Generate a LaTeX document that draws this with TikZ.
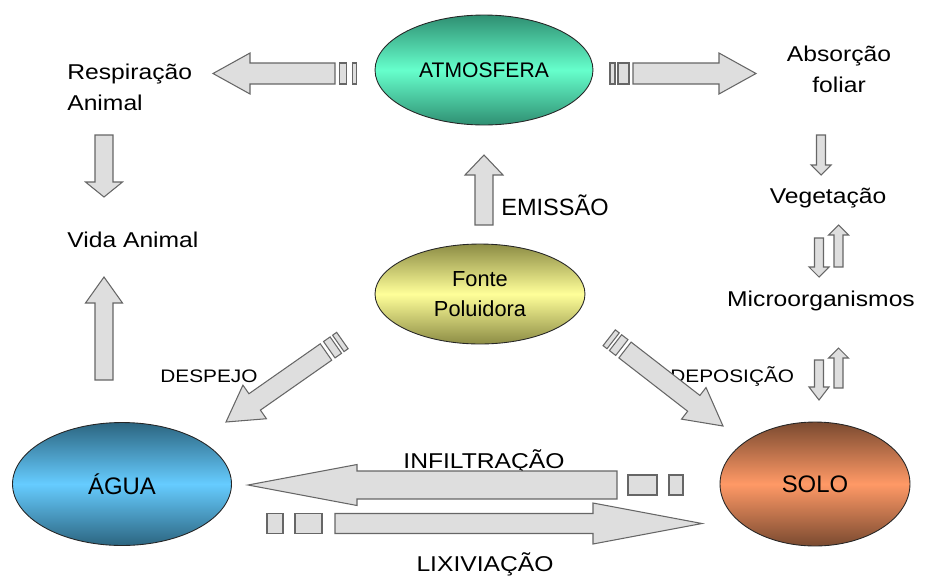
\documentclass[tikz,border=0pt]{standalone}
\usepackage{fontspec}
\setmainfont{Liberation Sans}
\newfontfamily\widefont{Liberation Sans}[FakeStretch=1.15]
\usetikzlibrary{positioning,shapes,calc}

% block arrow: shaft half width, head half width, head length, from, to (in px)
\newcommand{\fatarrow}[5]{%
  \draw[arrowbox] ($(#4)!#1*0.02cm!-90:(#5)$)
    -- ($(#5)!#3*0.02cm!(#4)!#1*0.02cm!90:(#4)$)
    -- ($(#5)!#3*0.02cm!(#4)!#2*0.02cm!90:(#4)$)
    -- (#5)
    -- ($(#5)!#3*0.02cm!(#4)!#2*0.02cm!-90:(#4)$)
    -- ($(#5)!#3*0.02cm!(#4)!#1*0.02cm!-90:(#4)$)
    -- ($(#4)!#1*0.02cm!90:(#5)$) -- cycle;}
% stripe behind the tail: half width, from distance, to distance, from, to
\newcommand{\fatbar}[5]{%
  \draw[arrowbox] ($(#4)!-#2*0.02cm!(#5)!#1*0.02cm!90:(#5)$)
    -- ($(#4)!-#2*0.02cm!(#5)!#1*0.02cm!-90:(#5)$)
    -- ($(#4)!-#3*0.02cm!(#5)!#1*0.02cm!-90:(#5)$)
    -- ($(#4)!-#3*0.02cm!(#5)!#1*0.02cm!90:(#5)$) -- cycle;}

\begin{document}
\begin{tikzpicture}[
  x=0.02cm, y=-0.02cm,
  arrowbox/.style={draw=black!60, fill=black!13, line width=0.6pt},
  blob/.style={ellipse, draw=black!85, line width=0.5pt, inner sep=0pt, align=center},
  atmcol/.style={top color=atmdark, bottom color=atmdark, middle color=atmlight},
  fontecol/.style={top color=fontedark, bottom color=fontedark, middle color=fontelight},
  aguacol/.style={top color=aguadark, bottom color=aguadark, middle color=agualight},
  solocol/.style={top color=solodark, bottom color=solodark, middle color=sololight},
  lbl/.style={font=\widefont\fontsize{12.2}{17.6}\selectfont, inner sep=0pt, align=center},
  small/.style={font=\widefont\fontsize{10.3}{12}\selectfont, inner sep=0pt}
  ]
  \definecolor{atmlight}{HTML}{66FFCC}
  \definecolor{atmdark}{HTML}{2F8F72}
  \definecolor{fontelight}{HTML}{FFFF99}
  \definecolor{fontedark}{HTML}{8C8C45}
  \definecolor{agualight}{HTML}{66CCFF}
  \definecolor{aguadark}{HTML}{2C6580}
  \definecolor{sololight}{HTML}{FF9966}
  \definecolor{solodark}{HTML}{7A4A30}
  \useasboundingbox (0,0) rectangle (926,582);

  % compartments
  \node[blob, atmcol, minimum width=4.36cm, minimum height=2.2cm,
    font=\fontsize{12}{14}\selectfont] (atm) at (484,70) {ATMOSFERA};
  \node[blob, fontecol, minimum width=4.2cm, minimum height=2.0cm,
    font=\fontsize{12.4}{17}\selectfont] (fonte) at (480,294) {Fonte\\Poluidora};
  \node[blob, aguacol, minimum width=4.38cm, minimum height=2.46cm,
    font=\fontsize{13.6}{16}\selectfont] (agua) at (122,484) {ÁGUA};
  \node[blob, solocol, minimum width=3.8cm, minimum height=2.48cm,
    font=\fontsize{13.6}{16}\selectfont] (solo) at (815,484) {SOLO};

  % labels
  \node[lbl, anchor=west, align=left] (resp) at (67,87) {Respiração\\Animal};
  \node[lbl, anchor=west] (vida) at (67,240) {Vida Animal};
  \node[lbl] (absorcao) at (839,69) {Absorção\\foliar};
  \node[lbl] (veg) at (828,198) {Vegetação};
  \node[lbl] (micro) at (821,301) {Microorganismos};
  \node[inner sep=0pt, anchor=west, font=\fontsize{13.4}{15}\selectfont] (emissao) at (501,205) {EMISSÃO};
  \node[small, anchor=west] (despejo) at (160,376) {DESPEJO};
  \node[small, anchor=west] (deposicao) at (670,376) {DEPOSIÇÃO};
  \node[lbl] (infil) at (484,461) {INFILTRAÇÃO};
  \node[lbl] (lixiv) at (485,564) {LIXIVIAÇÃO};

  % arrow ends
  \coordinate (atmL) at (335,73.5);   \coordinate (respR) at (213,73.5);
  \coordinate (atmR) at (633,73.5);   \coordinate (absL) at (756,73.5);
  \coordinate (respB) at (104,135);   \coordinate (vidaT) at (104,197);
  \coordinate (aguaT) at (104,380);   \coordinate (vidaB) at (104,277);
  \coordinate (fonteT) at (484,225);  \coordinate (atmB) at (484,155);
  \coordinate (absB) at (821,135);    \coordinate (vegT) at (821,175);
  \coordinate (vegB) at (819,238);    \coordinate (microT) at (819,277);
  \coordinate (microU) at (838.5,267); \coordinate (vegU) at (838.5,225);
  \coordinate (microB) at (819,360);  \coordinate (soloT) at (819,400);
  \coordinate (soloU) at (838.5,388); \coordinate (microD) at (838.5,348);
  \coordinate (fonteL) at (326,352);  \coordinate (aguaR) at (226,422);
  \coordinate (fonteR) at (625,350);  \coordinate (soloL) at (723,426);
  \coordinate (soloW) at (617,485);   \coordinate (aguaE) at (248,485);
  \coordinate (aguaS) at (335,523.5); \coordinate (soloS) at (702,523.5);

  % flows
  \fatarrow{10.5}{20.5}{37}{atmL}{respR}
  \fatbar{10.5}{4.3}{11.7}{atmL}{respR}
  \fatbar{10.5}{17.7}{21.7}{atmL}{respR}
  \fatarrow{10.5}{20.5}{37}{atmR}{absL}
  \fatbar{10.5}{4}{15}{atmR}{absL}
  \fatbar{10.5}{18}{23}{atmR}{absL}
  \fatarrow{9}{18.5}{15}{respB}{vidaT}
  \fatarrow{9}{18.5}{26}{aguaT}{vidaB}
  \fatarrow{9}{19}{20}{fonteT}{atmB}
  \fatarrow{4.5}{10}{10}{absB}{vegT}
  \fatarrow{4.5}{10}{10}{vegB}{microT}
  \fatarrow{4.5}{10}{10}{microU}{vegU}
  \fatarrow{4.5}{10}{13}{microB}{soloT}
  \fatarrow{4.5}{10}{10}{soloU}{microD}
  \fatarrow{10}{20.5}{35}{fonteL}{aguaR}
  \fatbar{10}{4}{12}{fonteL}{aguaR}
  \fatbar{10}{15}{20}{fonteL}{aguaR}
  \fatarrow{10}{20}{37}{fonteR}{soloL}
  \fatbar{10}{4}{12}{fonteR}{soloL}
  \fatbar{10}{15}{20}{fonteR}{soloL}
  \fatarrow{14}{20.5}{109}{soloW}{aguaE}
  \fatbar{10}{11}{40}{soloW}{aguaE}
  \fatbar{10}{52}{66}{soloW}{aguaE}
  \fatarrow{10}{20.5}{109}{aguaS}{soloS}
  \fatbar{10}{13}{40}{aguaS}{soloS}
  \fatbar{10}{52}{68}{aguaS}{soloS}
\end{tikzpicture}
\end{document}
